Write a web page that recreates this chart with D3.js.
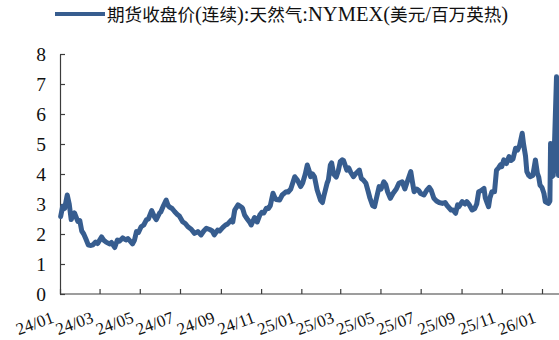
<!DOCTYPE html>
<html>
<head>
<meta charset="utf-8">
<script src="https://cdn.jsdelivr.net/npm/d3@7"></script>
<style>
  body { margin: 0; background: #fff; }
  svg { display: block; }
</style>
</head>
<body>
<svg id="chart" width="559" height="340"></svg>
<script>
// NYMEX natural gas continuous futures close, USD/MMBtu
const dates = [
  "2024-01-02","2024-01-05","2024-01-08","2024-01-12","2024-01-15","2024-01-18","2024-01-20","2024-01-23","2024-01-28","2024-01-31",
  "2024-02-03","2024-02-06","2024-02-09","2024-02-13","2024-02-17","2024-02-20","2024-02-24","2024-02-27","2024-03-04","2024-03-07",
  "2024-03-11","2024-03-16","2024-03-19","2024-03-24","2024-03-28","2024-03-31","2024-04-05","2024-04-10","2024-04-13","2024-04-20",
  "2024-04-23","2024-04-26","2024-04-29","2024-05-03","2024-05-07","2024-05-11","2024-05-14","2024-05-19","2024-05-23","2024-05-26",
  "2024-05-31","2024-06-02","2024-06-06","2024-06-10","2024-06-13","2024-06-15","2024-06-19","2024-06-23","2024-06-27","2024-06-30",
  "2024-07-05","2024-07-09","2024-07-13","2024-07-18","2024-07-23","2024-07-28","2024-08-02","2024-08-06","2024-08-10","2024-08-15",
  "2024-08-19","2024-08-22","2024-08-27","2024-08-30","2024-09-04","2024-09-08","2024-09-11","2024-09-17","2024-09-19","2024-09-22",
  "2024-09-27","2024-10-02","2024-10-04","2024-10-07","2024-10-11","2024-10-15","2024-10-17","2024-10-19","2024-10-22","2024-10-26",
  "2024-10-30","2024-11-02","2024-11-05","2024-11-09","2024-11-12","2024-11-15","2024-11-19","2024-11-22","2024-11-24","2024-11-29",
  "2024-12-03","2024-12-09","2024-12-12","2024-12-16","2024-12-22","2024-12-26","2024-12-31","2025-01-03","2025-01-07","2025-01-10",
  "2025-01-13","2025-01-15","2025-01-18","2025-01-21","2025-01-25","2025-01-30","2025-02-02","2025-02-04","2025-02-09","2025-02-11",
  "2025-02-14","2025-02-16","2025-02-19","2025-02-23","2025-02-26","2025-03-01","2025-03-04","2025-03-06","2025-03-11","2025-03-14",
  "2025-03-17","2025-03-21","2025-03-24","2025-03-30","2025-04-02","2025-04-05","2025-04-09","2025-04-12","2025-04-15","2025-04-19",
  "2025-04-22","2025-04-25","2025-04-29","2025-05-02","2025-05-06","2025-05-09","2025-05-12","2025-05-16","2025-05-20","2025-05-25",
  "2025-05-29","2025-06-03","2025-06-07","2025-06-10","2025-06-16","2025-06-18","2025-06-21","2025-06-25","2025-06-28","2025-07-01",
  "2025-07-06","2025-07-10","2025-07-14","2025-07-17","2025-07-21","2025-07-25","2025-07-29","2025-08-03","2025-08-07","2025-08-10",
  "2025-08-16","2025-08-19","2025-08-23","2025-08-26","2025-08-28","2025-09-02","2025-09-06","2025-09-09","2025-09-12","2025-09-17",
  "2025-09-21","2025-09-24","2025-09-27","2025-10-01","2025-10-05","2025-10-07","2025-10-10","2025-10-12","2025-10-14","2025-10-17",
  "2025-10-21","2025-10-24","2025-10-27","2025-10-30","2025-11-01","2025-11-04","2025-11-08","2025-11-12","2025-11-15","2025-11-18",
  "2025-11-22","2025-11-25","2025-11-28","2025-12-02","2025-12-04","2025-12-07","2025-12-09","2025-12-12","2025-12-14","2025-12-18",
  "2025-12-20","2025-12-22","2025-12-25","2025-12-27","2025-12-29","2026-01-01","2026-01-04","2026-01-06","2026-01-08","2026-01-11",
  "2026-01-13","2026-01-14","2026-01-16","2026-01-18","2026-01-19","2026-01-23","2026-01-26"
];
const prices = [
  2.58,2.92,2.85,3.30,3.00,2.48,2.60,2.70,2.42,2.45,
  2.10,2.00,1.85,1.63,1.62,1.64,1.73,1.68,1.90,1.80,
  1.73,1.67,1.72,1.55,1.80,1.76,1.87,1.80,1.85,1.67,
  1.80,2.08,2.05,2.24,2.30,2.47,2.50,2.78,2.58,2.48,
  2.70,2.74,2.95,3.13,2.95,2.90,2.85,2.74,2.65,2.60,
  2.41,2.35,2.24,2.16,2.02,2.08,1.97,2.10,2.19,2.15,
  2.10,1.97,2.13,2.10,2.22,2.30,2.33,2.47,2.40,2.80,
  2.97,2.90,2.85,2.63,2.50,2.38,2.30,2.40,2.55,2.40,
  2.63,2.72,2.70,2.86,2.85,2.95,3.36,3.20,3.15,3.13,
  3.30,3.41,3.40,3.50,3.91,3.80,3.58,3.70,4.00,4.30,
  4.10,3.91,4.00,3.90,3.47,3.13,3.05,3.25,3.69,3.80,
  4.30,4.37,4.00,3.90,4.10,4.41,4.47,4.45,4.13,4.20,
  4.05,3.91,4.00,4.13,3.85,3.80,3.69,3.45,3.20,2.95,
  2.91,3.20,3.58,3.50,3.74,3.65,3.40,3.19,3.35,3.50,
  3.69,3.74,3.50,3.70,4.08,3.80,3.41,3.50,3.45,3.35,
  3.30,3.45,3.55,3.45,3.19,3.10,3.05,3.02,3.05,2.95,
  2.80,2.80,2.69,2.97,2.91,3.08,3.00,3.08,3.00,2.80,
  2.85,3.00,3.41,3.45,3.52,3.20,3.02,2.91,3.20,3.41,
  3.41,4.13,4.20,4.30,4.25,4.47,4.35,4.58,4.45,4.50,
  4.86,4.80,4.95,5.36,5.00,4.60,4.08,3.95,3.91,3.95,
  4.20,4.47,4.02,3.90,3.63,3.55,3.35,3.08,3.05,3.02,
  3.10,5.02,3.91,3.95,4.30,7.24,3.95
];
const yTicks = [0, 1, 2, 3, 4, 5, 6, 7, 8];
const xTickDates = [
  "2024-01-01","2024-03-01","2024-05-01","2024-07-01","2024-09-01","2024-11-01",
  "2025-01-01","2025-03-01","2025-05-01","2025-07-01","2025-09-01","2025-11-01","2026-01-01"
];
const xTickLabels = [
  "24/01","24/03","24/05","24/07","24/09","24/11",
  "25/01","25/03","25/05","25/07","25/09","25/11","26/01"
];
const seriesName = "期货收盘价(连续):天然气:NYMEX(美元/百万英热)";

const W = 559, H = 340;
const lineColor = "#375d8f";
const axisColor = "#3c3c3c";
const serif = "'Liberation Serif', 'Noto Sans CJK SC', serif";
const cjk = "'Noto Sans CJK SC', sans-serif";

const parse = d3.timeParse("%Y-%m-%d");
const series = dates.map((d, i) => ({ date: parse(d), value: prices[i] }));

const x = d3.scaleTime()
  .domain([parse("2024-01-01"), parse("2026-01-01")])
  .range([60, 542]);
const y = d3.scaleLinear().domain([0, 8]).range([294, 54]);

const svg = d3.select("#chart");

// y axis with inward ticks
const yAxis = svg.append("g")
  .attr("transform", `translate(${x.range()[0]},0)`)
  .call(d3.axisLeft(y).tickValues(yTicks).tickSizeInner(-5).tickSizeOuter(0).tickPadding(14));
yAxis.select(".domain").attr("stroke", axisColor).attr("stroke-width", 1.2);
yAxis.selectAll(".tick line").attr("stroke", axisColor).attr("stroke-width", 1.2);
yAxis.selectAll(".tick text")
  .attr("fill", "#111")
  .style("font-family", serif)
  .style("font-size", "19.5px");

// x axis: baseline runs to the right edge, ticks point up
const xAxis = svg.append("g")
  .attr("transform", `translate(0,${y(0)})`)
  .call(d3.axisBottom(x).tickValues(xTickDates.map(parse)).tickSizeInner(-5).tickSizeOuter(0).tickFormat(""));
xAxis.select(".domain").remove();
xAxis.selectAll(".tick line").attr("stroke", axisColor).attr("stroke-width", 1.2);
xAxis.append("line")
  .attr("x1", x.range()[0]).attr("x2", W)
  .attr("stroke", axisColor).attr("stroke-width", 1.2);

svg.append("g").selectAll("text")
  .data(xTickDates)
  .join("text")
  .attr("transform", d => `translate(${x(parse(d)) - 5},${y(0) + 28}) rotate(-20)`)
  .attr("text-anchor", "end")
  .attr("fill", "#111")
  .style("font-family", serif)
  .style("font-size", "17px")
  .text((d, i) => xTickLabels[i]);

// price line
const line = d3.line()
  .x(d => x(d.date))
  .y(d => y(d.value));
svg.append("path")
  .datum(series)
  .attr("d", line)
  .attr("fill", "none")
  .attr("stroke", lineColor)
  .attr("stroke-width", 5)
  .attr("stroke-linejoin", "round")
  .attr("stroke-linecap", "round");

// legend: CJK runs in a sans face, Latin runs in a serif face
const legend = svg.append("g");
legend.append("line")
  .attr("x1", 55).attr("x2", 105).attr("y1", 14).attr("y2", 14)
  .attr("stroke", lineColor).attr("stroke-width", 4);
const legendText = legend.append("text")
  .attr("x", 107).attr("y", 21)
  .attr("fill", "#111");
const runs = seriesName.match(/[\u3400-\u9fff]+|[^\u3400-\u9fff]+/g);
legendText.selectAll("tspan")
  .data(runs)
  .join("tspan")
  .style("font-family", d => /[\u3400-\u9fff]/.test(d) ? cjk : serif)
  .style("font-size", d => /[\u3400-\u9fff]/.test(d) ? "17.6px" : "20.5px")
  .text(d => d);
</script>
</body>
</html>
